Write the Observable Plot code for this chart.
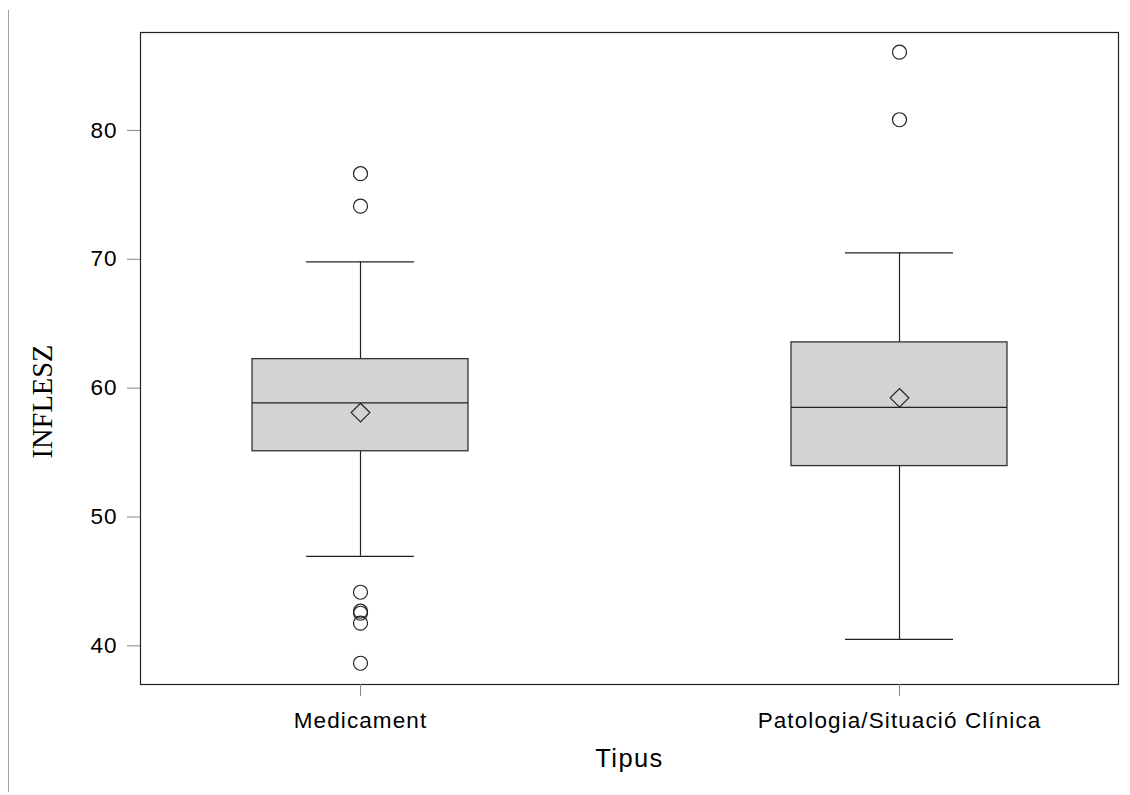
<!DOCTYPE html>
<html><head><meta charset="utf-8">
<script src="https://cdn.jsdelivr.net/npm/d3@7"></script>
<script src="https://cdn.jsdelivr.net/npm/@observablehq/plot@0.6"></script>
<style>
html,body{margin:0;padding:0;background:#fff;}
#wrap{position:relative;width:1130px;height:795px;}
#edge{position:absolute;left:8px;top:10px;width:0;height:782px;border-left:1px solid #a0a0a0;}
#wrap svg{position:absolute;left:0;top:0;}
#wrap g[aria-label="x-axis tick label"] text{letter-spacing:1.1px;}
#wrap g[aria-label="y-axis tick label"] text{letter-spacing:1px;}
#wrap g.xlab text{letter-spacing:1.4px;}
</style></head><body><div id="wrap"><div id="edge"></div></div>
<script>
const categories = ["Medicament", "Patologia/Situació Clínica"];
const whiskerLow = [46.95, 40.5];
const q1 = [55.1, 53.95];
const median = [58.85, 58.5];
const q3 = [62.25, 63.55];
const whiskerHigh = [69.8, 70.5];
const mean = [58.1, 59.25];
const outliersMedicament = [76.64, 74.12, 44.16, 42.69, 42.53, 41.76, 38.65];
const outliersPatologia = [86.07, 80.83];
const yTicks = [40, 50, 60, 70, 80];
const xLabel = "Tipus";
const yLabel = "INFLESZ";

const boxes = categories.map((c, i) => ({
  cat: c, low: whiskerLow[i], q1: q1[i], median: median[i], q3: q3[i], high: whiskerHigh[i], mean: mean[i]
}));
const outlierRows = [
  ...outliersMedicament.map(v => ({cat: categories[0], value: v})),
  ...outliersPatologia.map(v => ({cat: categories[1], value: v}))
];

const ink = "#222";
const plot = Plot.plot({
  width: 1130, height: 795,
  marginLeft: 140, marginRight: 12, marginTop: 32, marginBottom: 111,
  style: {fontFamily: "'Liberation Sans', Arial, sans-serif", background: "transparent", color: "#000"},
  x: {type: "band", domain: categories, paddingInner: 0.6, paddingOuter: 0.206},
  y: {domain: [37.0, 87.6]},
  marks: [
    Plot.ruleX(boxes, {x: "cat", y1: "low", y2: "high", stroke: ink, strokeWidth: 1.2}),
    Plot.barY(boxes, {x: "cat", y1: "q1", y2: "q3", fill: "#d3d3d3", stroke: "#333", strokeWidth: 1.3}),
    Plot.tickY(boxes, {x: "cat", y: "median", stroke: ink, strokeWidth: 1.3}),
    Plot.tickY(boxes, {x: "cat", y: "low", insetLeft: 54, insetRight: 54, stroke: ink, strokeWidth: 1.3}),
    Plot.tickY(boxes, {x: "cat", y: "high", insetLeft: 54, insetRight: 54, stroke: ink, strokeWidth: 1.3}),
    Plot.dot(boxes, {x: "cat", y: "mean", symbol: "diamond2", r: 8.4, stroke: ink, fill: "none", strokeWidth: 1.2}),
    Plot.dot(outlierRows, {x: "cat", y: "value", r: 7, stroke: ink, fill: "none", strokeWidth: 1.2}),
    Plot.frame({stroke: ink, strokeWidth: 1.2}),
    Plot.axisY({ticks: yTicks, tickSize: 13, tickPadding: 10, fontSize: 22.5, label: null, stroke: "#888"}),
    Plot.axisX({tickSize: 12, tickPadding: 16, fontSize: 22.5, label: null, stroke: "#888"}),
    Plot.text([xLabel], {frameAnchor: "bottom", dy: 64.5, lineAnchor: "top", fontSize: 25.5, fill: "#000", className: "xlab"}),
    Plot.text([yLabel], {frameAnchor: "left", textAnchor: "middle", dx: -98, dy: 43, rotate: -90, fontSize: 28.5, fill: "#000",
      fontFamily: "'Liberation Serif', 'Times New Roman', serif"})
  ]
});
document.getElementById("wrap").appendChild(plot);
</script>
</body></html>
